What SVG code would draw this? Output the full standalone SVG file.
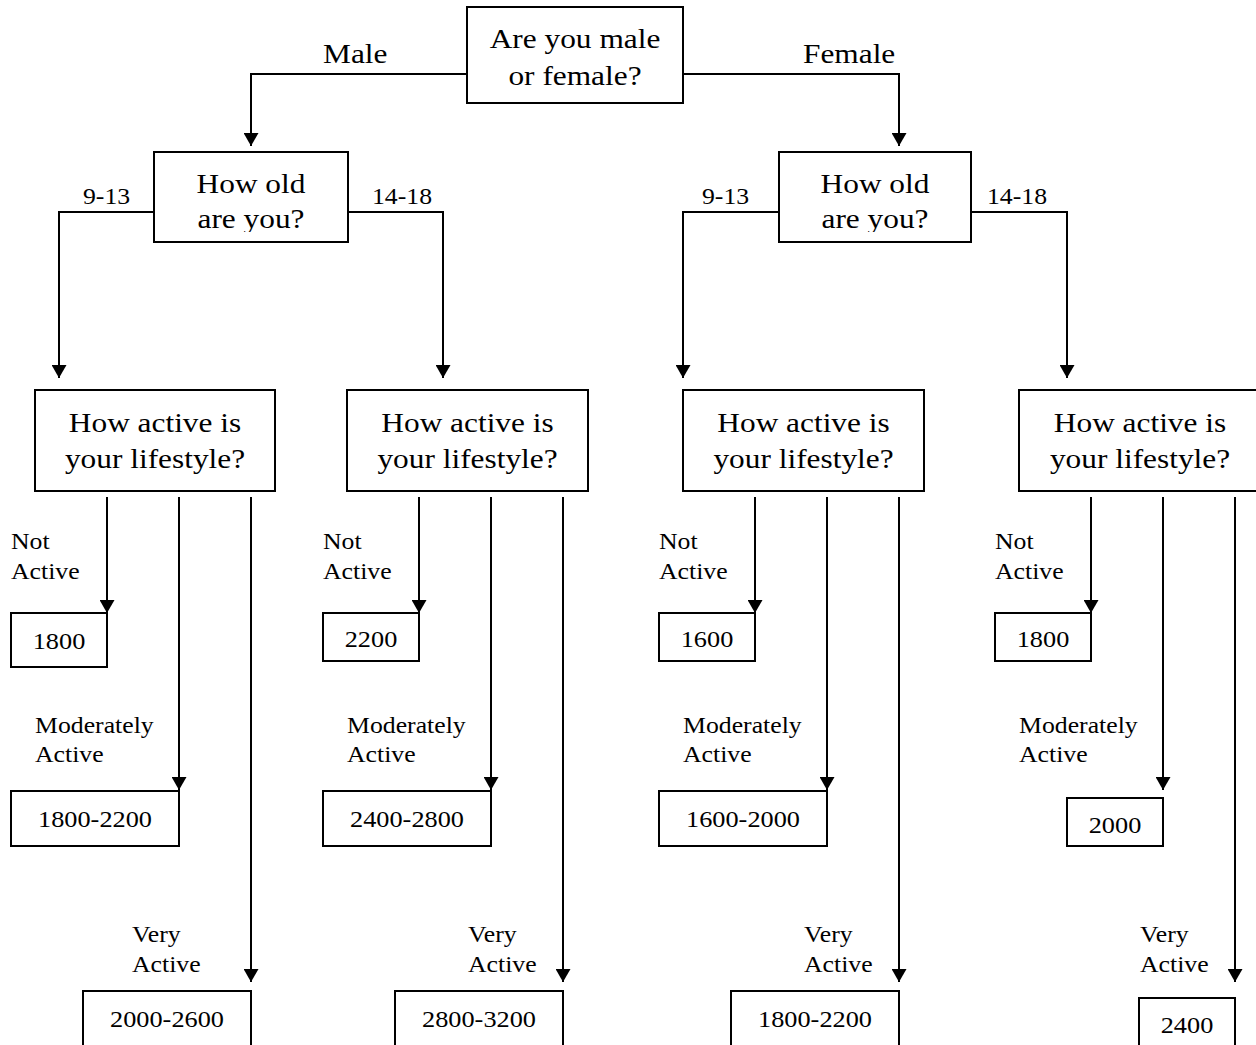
<svg xmlns="http://www.w3.org/2000/svg" width="1256" height="1045" viewBox="0 0 1256 1045">
<style>
.box{fill:#fff;stroke:#000;stroke-width:2}
.ln{fill:none;stroke:#000;stroke-width:2}
.arr{marker-end:url(#ah)}
text{font-family:"Liberation Serif","Times New Roman",serif;fill:#000}
.big{font-size:28px}
.sm{font-size:23px}
.num{font-size:23.5px}
.c{text-anchor:middle}
</style>
<defs>
<marker id="ah" markerUnits="userSpaceOnUse" markerWidth="15" markerHeight="15" refX="13" refY="7.5" orient="auto" viewBox="0 0 15 15">
<path d="M0,0 L13,7.5 L0,15 z" fill="#000"/>
</marker>
<clipPath id="ageclip"><rect x="0" y="150" width="1256" height="82"/></clipPath>
</defs>
<rect width="1256" height="1045" fill="#fff"/>
<g id="connectors">
<path class="ln arr" d="M467,74 H251 V146"/>
<path class="ln arr" d="M683,74 H899 V146"/>
<path class="ln arr" d="M154,212 H59 V378"/>
<path class="ln arr" d="M348,212 H443 V378"/>
<path class="ln arr" d="M779,212 H683 V378"/>
<path class="ln arr" d="M971,212 H1067 V378"/>
<path class="ln arr" d="M107,497 V613"/>
<path class="ln arr" d="M179,497 V790"/>
<path class="ln arr" d="M251,497 V982"/>
<path class="ln arr" d="M419,497 V613"/>
<path class="ln arr" d="M491,497 V790"/>
<path class="ln arr" d="M563,497 V982"/>
<path class="ln arr" d="M755,497 V613"/>
<path class="ln arr" d="M827,497 V790"/>
<path class="ln arr" d="M899,497 V982"/>
<path class="ln arr" d="M1091,497 V613"/>
<path class="ln arr" d="M1163,497 V790"/>
<path class="ln arr" d="M1235,497 V982"/>
</g>
<g id="edge-labels">
<text class="big" transform="translate(323,63) scale(1.12,1)">Male</text>
<text class="big" transform="translate(803,63) scale(1.12,1)">Female</text>
<text class="sm" transform="translate(83,204) scale(1.12,1)">9-13</text>
<text class="sm" transform="translate(372,204) scale(1.12,1)">14-18</text>
<text class="sm" transform="translate(702,204) scale(1.12,1)">9-13</text>
<text class="sm" transform="translate(987,204) scale(1.12,1)">14-18</text>
<text class="sm" transform="translate(11,549) scale(1.12,1)">Not</text>
<text class="sm" transform="translate(11,579) scale(1.12,1)">Active</text>
<text class="sm" transform="translate(323,549) scale(1.12,1)">Not</text>
<text class="sm" transform="translate(323,579) scale(1.12,1)">Active</text>
<text class="sm" transform="translate(659,549) scale(1.12,1)">Not</text>
<text class="sm" transform="translate(659,579) scale(1.12,1)">Active</text>
<text class="sm" transform="translate(995,549) scale(1.12,1)">Not</text>
<text class="sm" transform="translate(995,579) scale(1.12,1)">Active</text>
<text class="sm" transform="translate(35,733) scale(1.12,1)">Moderately</text>
<text class="sm" transform="translate(35,762) scale(1.12,1)">Active</text>
<text class="sm" transform="translate(347,733) scale(1.12,1)">Moderately</text>
<text class="sm" transform="translate(347,762) scale(1.12,1)">Active</text>
<text class="sm" transform="translate(683,733) scale(1.12,1)">Moderately</text>
<text class="sm" transform="translate(683,762) scale(1.12,1)">Active</text>
<text class="sm" transform="translate(1019,733) scale(1.12,1)">Moderately</text>
<text class="sm" transform="translate(1019,762) scale(1.12,1)">Active</text>
<text class="sm" transform="translate(132,942) scale(1.12,1)">Very</text>
<text class="sm" transform="translate(132,972) scale(1.12,1)">Active</text>
<text class="sm" transform="translate(468,942) scale(1.12,1)">Very</text>
<text class="sm" transform="translate(468,972) scale(1.12,1)">Active</text>
<text class="sm" transform="translate(804,942) scale(1.12,1)">Very</text>
<text class="sm" transform="translate(804,972) scale(1.12,1)">Active</text>
<text class="sm" transform="translate(1140,942) scale(1.12,1)">Very</text>
<text class="sm" transform="translate(1140,972) scale(1.12,1)">Active</text>
</g>
<g id="n-gender">
<rect class="box" x="467" y="7" width="216" height="96"/>
<text class="big c" transform="translate(575,48) scale(1.12,1)">Are you male</text>
<text class="big c" transform="translate(575,85) scale(1.12,1)">or female?</text>
</g>
<g id="n-age-male">
<rect class="box" x="154" y="152" width="194" height="90"/>
<g clip-path="url(#ageclip)">
<text class="big c" transform="translate(251,193) scale(1.12,1)">How old</text>
<text class="big c" transform="translate(251,228) scale(1.12,1)">are you?</text>
</g>
</g>
<g id="n-age-female">
<rect class="box" x="779" y="152" width="192" height="90"/>
<g clip-path="url(#ageclip)">
<text class="big c" transform="translate(875,193) scale(1.12,1)">How old</text>
<text class="big c" transform="translate(875,228) scale(1.12,1)">are you?</text>
</g>
</g>
<g id="n-act-m913">
<rect class="box" x="35" y="390" width="240" height="101"/>
<text class="big c" transform="translate(155,432) scale(1.12,1)">How active is</text>
<text class="big c" transform="translate(155,468) scale(1.12,1)">your lifestyle?</text>
</g>
<g id="n-act-m1418">
<rect class="box" x="347" y="390" width="241" height="101"/>
<text class="big c" transform="translate(467.5,432) scale(1.12,1)">How active is</text>
<text class="big c" transform="translate(467.5,468) scale(1.12,1)">your lifestyle?</text>
</g>
<g id="n-act-f913">
<rect class="box" x="683" y="390" width="241" height="101"/>
<text class="big c" transform="translate(803.5,432) scale(1.12,1)">How active is</text>
<text class="big c" transform="translate(803.5,468) scale(1.12,1)">your lifestyle?</text>
</g>
<g id="n-act-f1418">
<rect class="box" x="1019" y="390" width="242" height="101"/>
<text class="big c" transform="translate(1140,432) scale(1.12,1)">How active is</text>
<text class="big c" transform="translate(1140,468) scale(1.12,1)">your lifestyle?</text>
</g>
<g id="r-m913-not">
<rect class="box" x="11" y="613" width="96" height="54"/>
<text class="num c" transform="translate(59,649) scale(1.12,1)">1800</text>
</g>
<g id="r-m913-mod">
<rect class="box" x="11" y="791" width="168" height="55"/>
<text class="num c" transform="translate(95,827) scale(1.12,1)">1800-2200</text>
</g>
<g id="r-m913-very">
<rect class="box" x="83" y="991" width="168" height="70"/>
<text class="num c" transform="translate(167,1027) scale(1.12,1)">2000-2600</text>
</g>
<g id="r-m1418-not">
<rect class="box" x="323" y="613" width="96" height="48"/>
<text class="num c" transform="translate(371,647) scale(1.12,1)">2200</text>
</g>
<g id="r-m1418-mod">
<rect class="box" x="323" y="791" width="168" height="55"/>
<text class="num c" transform="translate(407,827) scale(1.12,1)">2400-2800</text>
</g>
<g id="r-m1418-very">
<rect class="box" x="395" y="991" width="168" height="70"/>
<text class="num c" transform="translate(479,1027) scale(1.12,1)">2800-3200</text>
</g>
<g id="r-f913-not">
<rect class="box" x="659" y="613" width="96" height="48"/>
<text class="num c" transform="translate(707,647) scale(1.12,1)">1600</text>
</g>
<g id="r-f913-mod">
<rect class="box" x="659" y="791" width="168" height="55"/>
<text class="num c" transform="translate(743,827) scale(1.12,1)">1600-2000</text>
</g>
<g id="r-f913-very">
<rect class="box" x="731" y="991" width="168" height="70"/>
<text class="num c" transform="translate(815,1027) scale(1.12,1)">1800-2200</text>
</g>
<g id="r-f1418-not">
<rect class="box" x="995" y="613" width="96" height="48"/>
<text class="num c" transform="translate(1043,647) scale(1.12,1)">1800</text>
</g>
<g id="r-f1418-mod">
<rect class="box" x="1067" y="798" width="96" height="48"/>
<text class="num c" transform="translate(1115,833) scale(1.12,1)">2000</text>
</g>
<g id="r-f1418-very">
<rect class="box" x="1139" y="998" width="96" height="60"/>
<text class="num c" transform="translate(1187,1033) scale(1.12,1)">2400</text>
</g>
</svg>
